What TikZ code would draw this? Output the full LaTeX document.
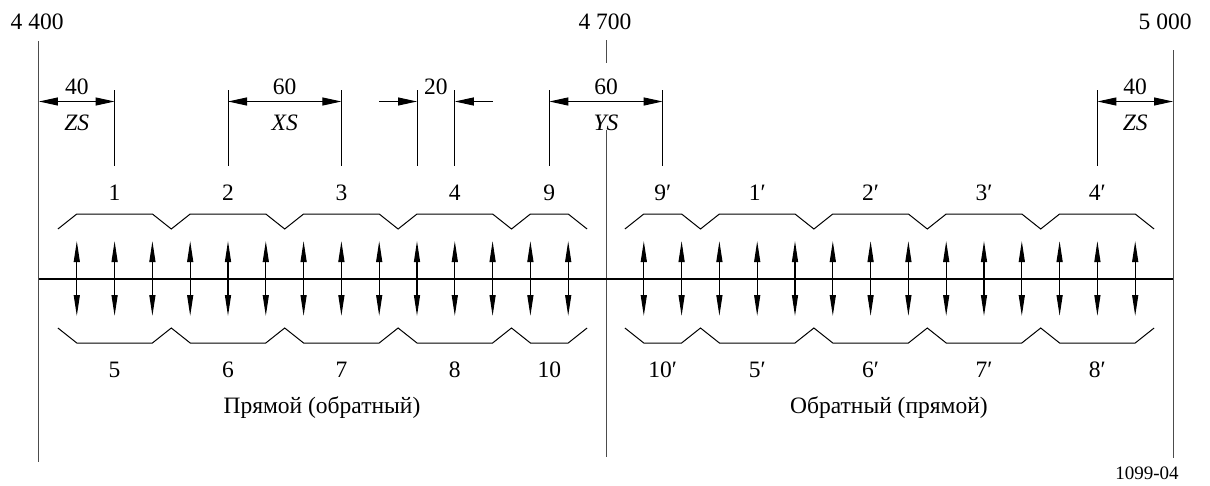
\documentclass[tikz,border=0pt]{standalone}
\usepackage{fontspec}
\setmainfont{Liberation Serif}
\usetikzlibrary{arrows.meta}
\tikzset{
  lbl/.style={font=\fontsize{23.5}{26}\selectfont, inner sep=0pt, anchor=center},
  smalllbl/.style={font=\fontsize{19}{22}\selectfont, inner sep=0pt, anchor=center},
  longline/.style={line width=1pt, draw=black!70},
  tickline/.style={line width=1pt, draw=black},
  axisline/.style={line width=1.1pt, draw=black},
  dimarrow/.style={line width=1pt, {Triangle[length=19pt,width=8pt]}-{Triangle[length=19pt,width=8pt]}},
  dimhead/.style={line width=1pt, -{Triangle[length=19pt,width=8pt]}},
  sigarrow/.style={line width=1.2pt, {Triangle[length=21pt,width=6pt]}-{Triangle[length=21pt,width=6pt]}},
  wave/.style={line width=1pt, line join=miter},
}
\newcommand\wavepts[2]{(10,#2) -- (20,#1) -- (60,#1) -- (70,#2) -- (80,#1) -- (120,#1) -- (130,#2) -- (140,#1) -- (180,#1) -- (190,#2) -- (200,#1) -- (240,#1) -- (250,#2) -- (260,#1) -- (280,#1) -- (290,#2)
  (310,#2) -- (320,#1) -- (340,#1) -- (350,#2) -- (360,#1) -- (400,#1) -- (410,#2) -- (420,#1) -- (460,#1) -- (470,#2) -- (480,#1) -- (520,#1) -- (530,#2) -- (540,#1) -- (580,#1) -- (590,#2)}
\begin{document}
\begin{tikzpicture}[x=1.89pt, y=-1pt]
  \useasboundingbox (-20.635,0) rectangle (619.577,485);

  % frequency labels
  \node[lbl] (f4400) at (-1,22) {4 400};
  \node[lbl] (f4700) at (299.5,22) {4 700};
  \node[lbl] (f5000) at (595.8,22) {5 000};

  % long vertical lines
  \coordinate (Ltop) at (0,41);   \coordinate (Lbot) at (0,462);
  \coordinate (Rtop) at (600,50); \coordinate (Rbot) at (600,458);
  \coordinate (Ctick1) at (300,40); \coordinate (Ctick2) at (300,63);
  \coordinate (Ctop) at (300,130); \coordinate (Cbot) at (300,457);
  \draw[longline] (Ltop) -- (Lbot);
  \draw[longline] (Rtop) -- (Rbot);
  \draw[longline] (Ctick1) -- (Ctick2);
  \draw[longline] (Ctop) -- (Cbot);

  % dimension ticks
  \foreach \f in {40,100,160,200,220,270,330,560}{
    \coordinate (dt\f) at (\f,90);
    \coordinate (db\f) at (\f,166);
    \draw[tickline] (dt\f) -- (db\f);
  }
  % dimension arrows
  \foreach \f in {0,40,100,160,180,200,220,240,270,330,560,600}{
    \coordinate (da\f) at (\f,101.5);
  }
  \draw[dimarrow] (da0) -- (da40);
  \draw[dimarrow] (da100) -- (da160);
  \draw[dimhead] (da180) -- (da200);
  \draw[dimhead] (da240) -- (da220);
  \draw[dimarrow] (da270) -- (da330);
  \draw[dimarrow] (da560) -- (da600);

  % dimension labels
  \node[lbl] (d40a) at (20,87) {40};
  \node[lbl] (zsa) at (20,123) {\textit{ZS}};
  \node[lbl] (d60a) at (130,87) {60};
  \node[lbl] (xs) at (130,123) {\textit{XS}};
  \node[lbl] (d20) at (210,87) {20};
  \node[lbl] (d60b) at (300,87) {60};
  \node[lbl] (ys) at (300,123) {\textit{YS}};
  \node[lbl] (d40b) at (580,87) {40};
  \node[lbl] (zsb) at (580,123) {\textit{ZS}};

  % channel labels
  \foreach \f/\t/\b in {40/1/5, 100/2/6, 160/3/7, 220/4/8, 270/9/10,
                        330/9′/10′, 380/1′/5′, 440/2′/6′, 500/3′/7′, 560/4′/8′}{
    \node[lbl] (top\f) at (\f,193) {\t};
    \node[lbl] (bot\f) at (\f,370) {\b};
  }

  % waveforms
  \draw[wave] \wavepts{214}{229};
  \draw[wave] \wavepts{343}{328};

  % axis
  \coordinate (axL) at (0,279);
  \coordinate (axR) at (600,279);
  \draw[axisline] (axL) -- (axR);

  % carrier arrows
  \foreach \f in {20,40,...,280,320,340,...,580}{
    \coordinate (sa\f) at (\f,241);
    \coordinate (sb\f) at (\f,316);
    \draw[sigarrow] (sa\f) -- (sb\f);
  }

  % direction labels
  \node[lbl] (dirL) at (149.7,408) {Прямой (обратный)};
  \node[lbl] (dirR) at (449.7,408) {Обратный (прямой)};
  \node[smalllbl] (fig) at (586.2,473) {1099-04};
\end{tikzpicture}
\end{document}
